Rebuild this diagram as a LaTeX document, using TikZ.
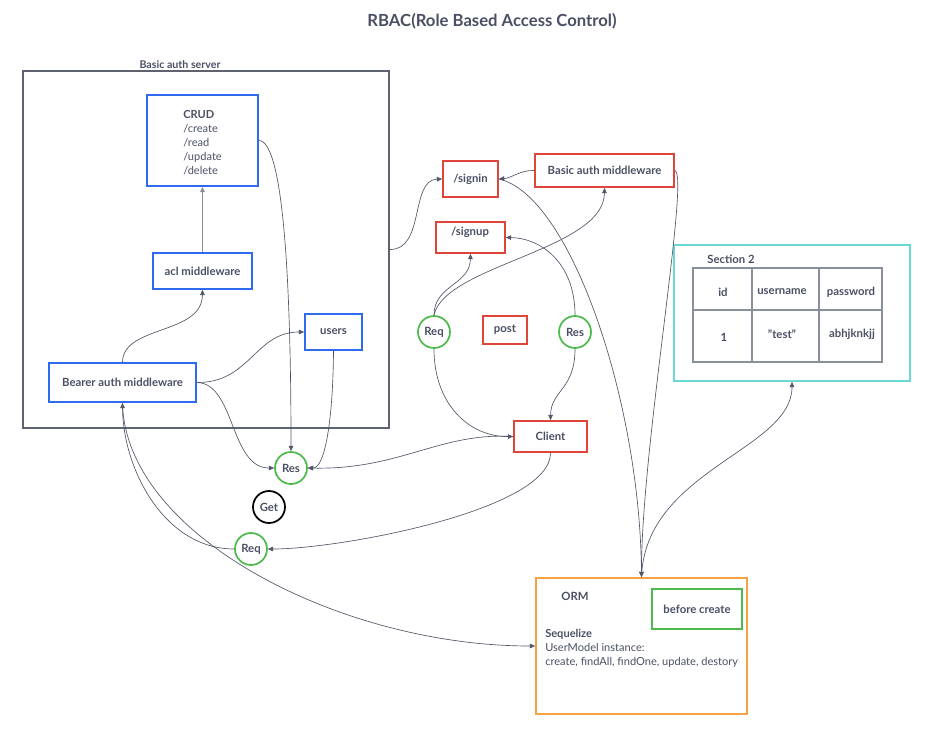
\documentclass[tikz,border=0pt]{standalone}
\usepackage{fontspec}
\setmainfont{Lato}
\usetikzlibrary{arrows.meta}
\definecolor{txt}{HTML}{4A5064}
\definecolor{ln}{HTML}{525769}
\definecolor{frame}{HTML}{5F6370}
\definecolor{bl}{HTML}{2F6BF0}
\definecolor{rd}{HTML}{E0453A}
\definecolor{gr}{HTML}{4CBB4C}
\definecolor{og}{HTML}{F4A340}
\definecolor{cy}{HTML}{6AD8D8}
\definecolor{tb}{HTML}{8A8F9C}
\tikzset{
  lbl/.style={font=\fontsize{8.5}{10}\selectfont\bfseries, text=txt},
  box/.style={draw, line width=1.3pt, rectangle, inner sep=0pt, lbl},
  bluebox/.style={box, draw=bl},
  redbox/.style={box, draw=rd},
  circ/.style={draw=gr, line width=1.3pt, circle, minimum size=24pt, inner sep=0pt, lbl},
  conn/.style={draw=ln, line width=0.5pt, -{Triangle[length=4pt,width=3.5pt]}},
}
\begin{document}
\begin{tikzpicture}[x=0.75pt,y=-0.75pt]
\useasboundingbox (0,0) rectangle (936,734);
% title
\node[font=\fontsize{12.5}{14}\selectfont\bfseries, text=txt] (title) at (492,21) {RBAC(Role Based Access Control)};
% outer server box
\node[draw=frame, line width=1.4pt, minimum width=274.5pt, minimum height=267.75pt, inner sep=0pt] (outer) at (206,249.5) {};
\node[lbl, font=\fontsize{8}{10}\selectfont\bfseries] (outerlbl) at (180,65) {Basic auth server};
% CRUD
\node[bluebox, minimum width=83.25pt, minimum height=68.25pt] (crud) at (202.5,140.5) {};
\node[lbl, anchor=north west, align=left, inner sep=0pt, font=\fontsize{8.3}{10.5}\selectfont] (crudtxt) at (183,110) {\textbf{CRUD}\\/create\\/read\\/update\\/delete};
\node[bluebox, minimum width=74.25pt, minimum height=27pt] (acl) at (202.5,271) {acl middleware};
\node[bluebox, minimum width=42.75pt, minimum height=27pt] (users) at (333.5,332) {users};
\node[bluebox, minimum width=110.25pt, minimum height=29.25pt] (bearer) at (122.5,382.5) {Bearer auth middleware};
% red boxes
\node[redbox, minimum width=41.25pt, minimum height=27pt] (signin) at (470.5,179) {/signin};
\node[redbox, minimum width=104.25pt, minimum height=24.75pt] (bam) at (604.5,170.5) {Basic auth middleware};
\node[redbox, minimum width=51.75pt, minimum height=23.25pt] (signup) at (470.5,237.5) {};
\node[lbl] (signuptxt) at (470,232) {/signup};
\node[redbox, minimum width=33pt, minimum height=21pt] (post) at (505,330) {post};
\node[redbox, minimum width=54.75pt, minimum height=23.25pt] (client) at (550.5,436.5) {Client};
% circles
\node[circ] (req1) at (434,332) {Req};
\node[circ] (res1) at (575,332) {Res};
\node[circ] (res2) at (291,468) {Res};
\node[circ, draw=black] (get) at (269,507) {Get};
\node[circ] (req2) at (251,549) {Req};
% section 2
\node[draw=cy, line width=1.3pt, minimum width=177pt, minimum height=102pt, inner sep=0pt] (sec2) at (792,313) {};
\node[lbl] (sec2lbl) at (731,259) {Section 2};
\draw[tb, line width=1.3pt] (693,268) rectangle (882,362);
\draw[tb, line width=1.3pt] (752,268) -- (752,362) (819,268) -- (819,362) (693,310) -- (882,310);
\node[lbl] (cid) at (723,292) {id};
\node[lbl] (cuser) at (782,292) {username};
\node[lbl] (cpass) at (851,292) {password};
\node[lbl] (v1) at (724,337) {1};
\node[lbl] (v2) at (782,334) {"test"};
\node[lbl] (v3) at (852,334) {abhjknkjj};
% ORM
\node[draw=og, line width=1.3pt, minimum width=158.25pt, minimum height=102pt, inner sep=0pt] (orm) at (641.5,646) {};
\node[lbl] (ormlbl) at (575,596) {ORM};
\node[box, draw=gr, minimum width=67.5pt, minimum height=30pt] (bc) at (697,609) {before create};
\node[lbl, anchor=north west, align=left, inner sep=0pt, font=\fontsize{8.3}{10.5}\selectfont] (seq) at (545,629) {\textbf{Sequelize}\\UserModel instance:\\create, findAll, findOne, update, destory};
% connectors
\draw[conn, draw=tb, line width=1pt] (acl.north) -- (crud.south);
\draw[conn] (bearer.north) .. controls (123,325) and (202,335) .. (acl.south);
\draw[conn] (bearer.east) .. controls (250,383) and (255,332) .. (users.west);
\draw[conn] (bearer.east) .. controls (235,383) and (230,468) .. (res2.west);
\draw[conn] (crud.east) .. controls (285,141) and (291,300) .. (res2.north);
\draw[conn] (users.south) .. controls (333,420) and (325,468) .. (res2.east);
\draw[conn] (client.west) .. controls (440,432) and (400,470) .. (res2.east);
\draw[conn] (req1.south) .. controls (434,405) and (470,437) .. (client.west);
\draw[conn] (res1.south) .. controls (575,390) and (551,390) .. (client.north);
\draw[conn] (res1.north) .. controls (575,262) and (540,238) .. (signup.east);
\draw[conn] (req1.north) .. controls (434,285) and (470,285) .. (signup.south);
\draw[conn] (req1.north) .. controls (445,265) and (604,250) .. (bam.south);
\draw[conn] (bam.west) .. controls (520,170) and (512,178) .. (signin.east);
\draw[conn] (outer.east) .. controls (425,250) and (410,180) .. (signin.west);
\draw[conn] (signin.east) .. controls (570,195) and (640,400) .. (orm.north);
\draw[conn] (bam.east) .. controls (690,175) and (641,450) .. (orm.north);
\draw[conn] (orm.north) .. controls (645,470) and (792,450) .. (sec2.south);
\draw[conn] (client.south) .. controls (551,510) and (340,549) .. (req2.east);
\draw[conn] (req2.west) .. controls (165,549) and (123,470) .. (bearer.south);
\draw[conn] (bearer.south) .. controls (125,535) and (340,646) .. (orm.west);
\end{tikzpicture}
\end{document}
